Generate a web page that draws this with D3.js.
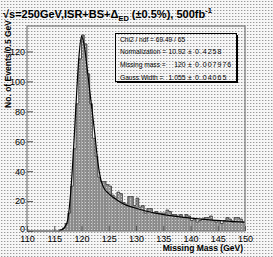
<!DOCTYPE html>
<html>
<head>
<meta charset="utf-8">
<script src="https://cdn.jsdelivr.net/npm/d3@7/dist/d3.min.js"></script>
<style>
  body { margin: 0; background: #fff; }
  svg { display: block; font-family: "Liberation Sans", Arial, sans-serif; }
</style>
</head>
<body>
<script>
// histogram: 0.5 GeV bins from 110 to 150 GeV
var binLow = d3.range(110, 150, 0.5);
var counts = [
  0, 0, 0, 0, 0, 0, 0, 0, 0, 0,      // 110 - 114.5
  0, 0, 1, 2, 5, 12, 30, 55, 85, 115, // 115 - 119.5
  131, 125, 105, 85, 62, 50, 36, 33, 33, 31, // 120 - 124.5
  30, 24, 22, 26, 25, 19, 18, 23, 23, 17,    // 125 - 129.5
  22, 16, 17, 12, 15, 15, 12, 13, 12, 12,    // 130 - 134.5
  12, 14, 13, 11, 11, 10, 11, 9, 11, 10,     // 135 - 139.5
  7, 8, 6, 7, 8, 9, 9, 10, 7, 6,             // 140 - 144.5
  7, 5, 7, 9, 8, 6, 9, 9, 8, 6               // 145 - 149.5
];

// fitted curve
var fitMass = [115.8, 116.5, 117, 117.5, 118, 118.5, 119, 119.5, 120, 120.5, 121, 121.5, 122, 122.5, 123, 123.5, 124, 125, 126, 127, 128, 129, 130, 132, 134, 136, 138, 140, 142, 144, 146, 148, 150];
var fitVal  = [0, 1, 3, 8, 25, 52, 85, 115, 130, 124, 110, 94, 79, 63, 46, 35, 29.5, 25, 22, 19.5, 17.5, 16.3, 15.2, 13.2, 11.6, 10.4, 9.4, 8.6, 7.9, 7.3, 6.8, 6.3, 5.9];

var xMajor = d3.range(110, 151, 5);
var yMajor = d3.range(0, 121, 20);

var statLines = [
  ["Chi2 / ndf = 69.49 / 65", "", ""],
  ["Normalization =", "10.92", "0.4258"],
  ["Missing mass =", "120", "0.007976"],
  ["Gauss Width =", "1.055", "0.04065"]
];

var W = 273, H = 257;
var svg = d3.select("body").append("svg")
    .attr("width", W)
    .attr("height", H);

var defs = svg.append("defs");
// dithered paper background
var bgp = defs.append("pattern").attr("id", "bg")
    .attr("width", 3).attr("height", 3).attr("patternUnits", "userSpaceOnUse");
bgp.append("rect").attr("width", 3).attr("height", 3).attr("fill", "#f6f6f6");
bgp.append("rect").attr("x", 1).attr("y", 1).attr("width", 1).attr("height", 1).attr("fill", "#999");
bgp.append("rect").attr("x", 2).attr("y", 1).attr("width", 1).attr("height", 1).attr("fill", "#d4d4d4");
// histogram fill
var hp = defs.append("pattern").attr("id", "hf")
    .attr("width", 3).attr("height", 3).attr("patternUnits", "userSpaceOnUse");
hp.append("rect").attr("width", 3).attr("height", 3).attr("fill", "#8a8a8a");
hp.append("rect").attr("x", 1).attr("y", 1).attr("width", 1).attr("height", 1).attr("fill", "#d0d0d0");

svg.append("rect").attr("width", W).attr("height", H).attr("fill", "url(#bg)");

var x = d3.scaleLinear().domain([110, 150]).range([27, 245]);
var y = d3.scaleLinear().domain([0, 137]).range([231, 26]);

// histogram bars
var hist = svg.append("g");
hist.selectAll("rect")
    .data(counts)
  .enter().append("rect")
    .attr("x", function(d, i) { return x(binLow[i]); })
    .attr("width", function(d, i) { return x(binLow[i] + 0.5) - x(binLow[i]); })
    .attr("y", function(d) { return y(d); })
    .attr("height", function(d) { return y(0) - y(d); })
    .attr("fill", "url(#hf)");

var stepData = counts.map(function(d, i) { return [binLow[i], d]; });
stepData.push([150, counts[counts.length - 1]]);
hist.append("path")
    .attr("d", d3.line()
      .x(function(d) { return x(d[0]); })
      .y(function(d) { return y(d[1]); })
      .curve(d3.curveStepAfter)(stepData))
    .attr("fill", "none")
    .attr("stroke", "#333")
    .attr("stroke-width", 0.8);

// fit curve
svg.append("path")
    .attr("d", d3.line()
      .x(function(d, i) { return x(fitMass[i]); })
      .y(function(d) { return y(d); })
      .curve(d3.curveMonotoneX)(fitVal))
    .attr("fill", "none")
    .attr("stroke", "#000")
    .attr("stroke-width", 1.2);

// frame
svg.append("rect")
    .attr("x", 27).attr("y", 26)
    .attr("width", 218).attr("height", 205)
    .attr("fill", "none")
    .attr("stroke", "#777")
    .attr("stroke-width", 1.2);

// x axis
var xg = svg.append("g").attr("transform", "translate(0,231)");
xg.call(d3.axisBottom(x).tickValues(d3.range(110, 151, 1)).tickSize(-2.5).tickFormat(""));
xg.call(d3.axisBottom(x).tickValues(xMajor).tickSize(-5).tickPadding(5).tickFormat(d3.format("d")));
xg.selectAll(".domain").remove();
xg.selectAll("line").attr("stroke", "#555");
xg.selectAll("text").attr("font-size", 9).attr("fill", "#000");

// y axis
var yg = svg.append("g").attr("transform", "translate(27,0)");
yg.call(d3.axisLeft(y).tickValues(d3.range(0, 137, 4)).tickSize(-3).tickFormat(""));
yg.call(d3.axisLeft(y).tickValues(yMajor).tickSize(-6).tickPadding(2).tickFormat(d3.format("d")));
yg.selectAll(".domain").remove();
yg.selectAll("line").attr("stroke", "#555");
yg.selectAll("text").attr("font-size", 9).attr("fill", "#000");
yg.selectAll(".tick text").filter(function(d) { return d === 0; }).attr("dy", "0.1em");

// axis titles
svg.append("text")
    .attr("x", 243).attr("y", 251)
    .attr("text-anchor", "end")
    .attr("font-size", 8.5)
    .attr("font-weight", "bold")
    .text("Missing Mass (GeV)");

svg.append("text")
    .attr("transform", "translate(11,20) rotate(-90)")
    .attr("text-anchor", "end")
    .attr("font-size", 8.5)
    .attr("font-weight", "bold")
    .text("No. of Events/0.5 GeV");

// title
var title = svg.append("text")
    .attr("x", 3).attr("y", 18)
    .attr("font-size", 11)
    .attr("font-weight", "bold");
title.append("tspan").text("\u221As=250GeV,ISR+BS+\u0394");
title.append("tspan").attr("font-size", 7.5).attr("dy", 3).text("ED");
title.append("tspan").attr("dy", -3).text(" (\u00B10.5%), 500fb");
title.append("tspan").attr("font-size", 7.5).attr("dy", -5).text("-1");

// stats box
svg.append("rect")
    .attr("x", 117).attr("y", 35).attr("width", 121).attr("height", 48)
    .attr("fill", "#000");
svg.append("rect")
    .attr("x", 115.5).attr("y", 33.5).attr("width", 121).attr("height", 48)
    .attr("fill", "url(#bg)")
    .attr("stroke", "#000")
    .attr("stroke-width", 1);

var st = svg.append("g").attr("fill", "#000");
statLines.forEach(function(l, i) {
  var yy = 41.5 + i * 12.8;
  st.append("text").attr("x", 120).attr("y", yy).attr("font-size", 6.6).text(l[0]);
  if (l[1]) {
    st.append("text").attr("x", 185.5).attr("y", yy).attr("font-size", 6.8).attr("text-anchor", "end").text(l[1]);
    st.append("text").attr("x", 188).attr("y", yy).attr("font-size", 6.8).text("\u00B1");
    st.append("text").attr("x", 195).attr("y", yy).attr("font-size", 7).attr("letter-spacing", 1).text(l[2]);
  }
});
</script>
</body>
</html>
